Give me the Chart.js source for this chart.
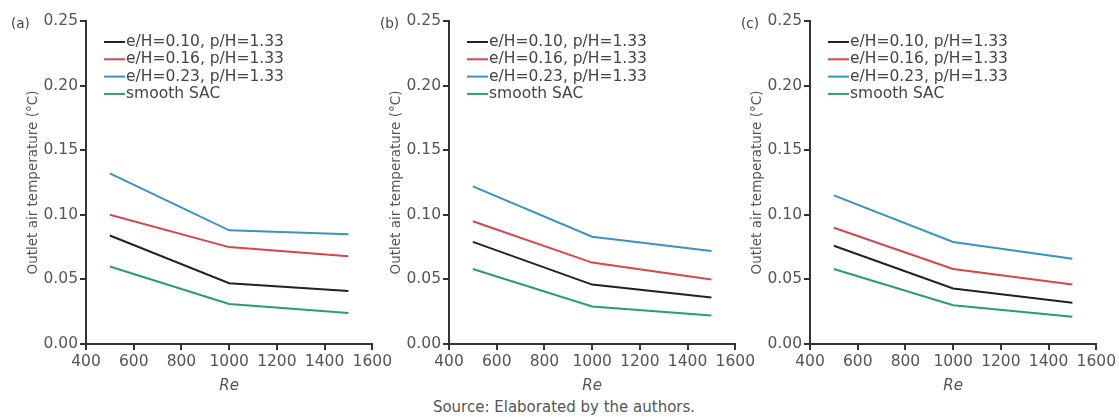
<!DOCTYPE html>
<html>
<head>
<meta charset="utf-8">
<script src="https://cdn.jsdelivr.net/npm/chart.js@4.4.0/dist/chart.umd.min.js"></script>
<style>
  body { margin: 0; background: #fff; width: 1119px; height: 417px; position: relative; overflow: hidden; font-family: "DejaVu Sans", sans-serif; }
  .panel { position: absolute; top: 0; width: 395px; height: 395px; }
  .tag { position: absolute; top: 15px; font-size: 13.5px; color: #444; }
  #source { position: absolute; top: 398px; left: 0; width: 1128px; text-align: center; font-size: 15px; color: #555; }
</style>
</head>
<body>
<div class="panel" style="left:0px"><canvas id="chartA"></canvas></div>
<div class="panel" style="left:363px"><canvas id="chartB"></canvas></div>
<div class="panel" style="left:724px"><canvas id="chartC"></canvas></div>
<div class="tag" style="left:11px">(a)</div>
<div class="tag" style="left:380px">(b)</div>
<div class="tag" style="left:741px">(c)</div>
<div id="source">Source: Elaborated by the authors.</div>
<script>
  const reynolds = [500, 1000, 1500];
  const seriesNames = ['e/H=0.10, p/H=1.33', 'e/H=0.16, p/H=1.33', 'e/H=0.23, p/H=1.33', 'smooth SAC'];
  const seriesColors = ['#222222', '#d8454d', '#3a93c3', '#2a9f68'];

  // panel (a)
  const a_e010 = [0.084, 0.047, 0.041];
  const a_e016 = [0.100, 0.075, 0.068];
  const a_e023 = [0.132, 0.088, 0.085];
  const a_smooth = [0.060, 0.031, 0.024];
  // panel (b)
  const b_e010 = [0.079, 0.046, 0.036];
  const b_e016 = [0.095, 0.063, 0.050];
  const b_e023 = [0.122, 0.083, 0.072];
  const b_smooth = [0.058, 0.029, 0.022];
  // panel (c)
  const c_e010 = [0.076, 0.043, 0.032];
  const c_e016 = [0.090, 0.058, 0.046];
  const c_e023 = [0.115, 0.079, 0.066];
  const c_smooth = [0.058, 0.030, 0.021];

  const fontFam = '"DejaVu Sans", sans-serif';

  // legend drawn inside the plot, upper left
  const innerLegend = {
    id: 'innerLegend',
    afterDraw(chart) {
      const ctx = chart.ctx;
      const area = chart.chartArea;
      ctx.save();
      ctx.font = '15.5px ' + fontFam;
      ctx.textBaseline = 'middle';
      chart.data.datasets.forEach((ds, i) => {
        const y = 42 + i * 17.3;
        const x0 = area.left + 18;
        ctx.strokeStyle = ds.borderColor;
        ctx.lineWidth = 2;
        ctx.beginPath();
        ctx.moveTo(x0, y);
        ctx.lineTo(x0 + 21, y);
        ctx.stroke();
        ctx.fillStyle = '#444';
        ctx.fillText(ds.label, x0 + 22, y);
      });
      ctx.restore();
    }
  };

  function makeChart(id, rows) {
    const datasets = rows.map((vals, i) => ({
      label: seriesNames[i],
      data: vals.map((v, k) => ({ x: reynolds[k], y: v })),
      borderColor: seriesColors[i],
      backgroundColor: seriesColors[i],
      borderWidth: 2,
      pointRadius: 0,
      tension: 0
    }));
    return new Chart(document.getElementById(id), {
      type: 'line',
      data: { datasets: datasets },
      options: {
        responsive: true,
        maintainAspectRatio: false,
        animation: false,
        layout: { padding: { left: 0, right: 22, top: 21, bottom: 0 } },
        plugins: { legend: { display: false }, tooltip: { enabled: false } },
        scales: {
          x: {
            type: 'linear',
            min: 400, max: 1600,
            afterFit: s => { s.height = 51; },
            border: { color: '#333', width: 2 },
            grid: { drawOnChartArea: false, tickLength: 6, color: '#333', lineWidth: 2 },
            ticks: { stepSize: 200, padding: 3, color: '#555', font: { family: fontFam, size: 15.5 }, maxRotation: 0, callback: v => String(v) },
            title: { display: true, text: 'Re', color: '#555', padding: { top: 0, bottom: 0 }, font: { family: fontFam, size: 15, style: 'italic' } }
          },
          y: {
            min: 0, max: 0.25,
            afterFit: s => { s.width = 86; },
            border: { color: '#333', width: 2 },
            grid: { drawOnChartArea: false, tickLength: 6, color: '#333', lineWidth: 2 },
            ticks: { stepSize: 0.05, padding: 2, color: '#555', font: { family: fontFam, size: 15.5 }, callback: v => v.toFixed(2) },
            title: { display: true, text: 'Outlet air temperature (°C)', color: '#555', padding: { top: 25, bottom: 0 }, font: { family: fontFam, size: 13.5 } }
          }
        }
      },
      plugins: [innerLegend]
    });
  }

  makeChart('chartA', [a_e010, a_e016, a_e023, a_smooth]);
  makeChart('chartB', [b_e010, b_e016, b_e023, b_smooth]);
  makeChart('chartC', [c_e010, c_e016, c_e023, c_smooth]);
</script>
</body>
</html>
